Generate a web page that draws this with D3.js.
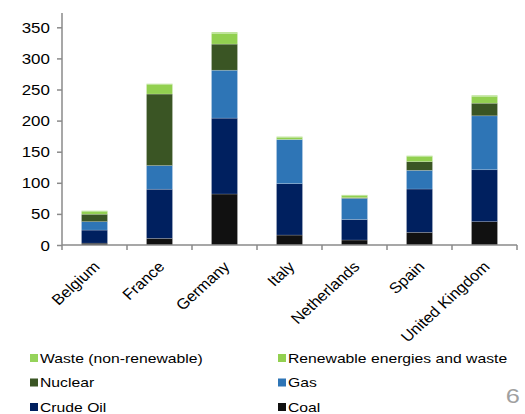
<!DOCTYPE html>
<html>
<head>
<meta charset="utf-8">
<script src="https://cdn.jsdelivr.net/npm/d3@7"></script>
<style>
  html, body { margin: 0; padding: 0; background: #fff; }
  svg { display: block; font-family: "Liberation Sans", Arial, sans-serif; }
</style>
</head>
<body>
<div id="chart"></div>
<script>
// countries along the x axis
const countries = ['Belgium', 'France', 'Germany', 'Italy', 'Netherlands', 'Spain', 'United Kingdom'];

// stacked series, bottom to top
const coal = [3, 10.7, 82, 16, 8, 20.4, 37.5];
const crudeOil = [21, 79, 122, 82.7, 33, 69.6, 83.5];
const gas = [13.5, 38, 77, 71, 34, 30, 86.7];
const nuclear = [12, 115, 42, 0, 1, 14, 20.3];
const renewables = [4, 15, 17, 3.5, 3.5, 8, 11];
const waste = [1.5, 1.5, 2, 1, 1, 1.5, 1.5];

const yTicks = [0, 50, 100, 150, 200, 250, 300, 350];

const seriesNames = ['Coal', 'Crude Oil', 'Gas', 'Nuclear', 'Renewable energies and waste', 'Waste (non-renewable)'];
const seriesValues = [coal, crudeOil, gas, nuclear, renewables, waste];
const colors = ['#111111', '#00205f', '#2e75b6', '#3a5524', '#92d050', '#95d35a'];

// legend layout order (two columns, three rows)
const legendOrder = [
  'Waste (non-renewable)', 'Renewable energies and waste',
  'Nuclear', 'Gas',
  'Crude Oil', 'Coal'
];

const width = 525;
const height = 414;
const stretch = 1.21; // text in the reference is horizontally widened
const axisColor = '#8a8a8a';

const table = countries.map((c, i) => {
  const row = { country: c };
  seriesNames.forEach((s, j) => { row[s] = seriesValues[j][i]; });
  return row;
});

const stacked = d3.stack().keys(seriesNames)(table);

const x = d3.scaleBand()
  .domain(countries)
  .range([62, 517])
  .paddingInner(0.6)
  .paddingOuter(0.3);

const y = d3.scaleLinear()
  .domain([0, 373])
  .range([245, 13]);

const color = d3.scaleOrdinal().domain(seriesNames).range(colors);

const svg = d3.select('#chart')
  .append('svg')
  .attr('width', width)
  .attr('height', height)
  .attr('viewBox', [0, 0, width, height]);

// bars
svg.append('g')
  .selectAll('g')
  .data(stacked)
  .join('g')
  .attr('fill', d => color(d.key))
  .selectAll('rect')
  .data(d => d)
  .join('rect')
  .attr('x', d => x(d.data.country))
  .attr('width', x.bandwidth())
  .attr('y', d => y(d[1]))
  .attr('height', d => Math.max(0, y(d[0]) - y(d[1])))
  .attr('stroke', '#ffffff')
  .attr('stroke-opacity', 0.3)
  .attr('stroke-width', 0.6);

// y axis
const yAxis = g => g
  .attr('transform', `translate(${x.range()[0]},0)`)
  .call(d3.axisLeft(y).tickValues(yTicks).tickSize(5).tickSizeOuter(0))
  .call(g => g.select('.domain')
    .attr('d', `M0,${y.range()[0]}V${y.range()[1]}`)
    .attr('stroke', axisColor)
    .attr('stroke-width', 1.5))
  .call(g => g.selectAll('.tick line').attr('stroke', axisColor).attr('stroke-width', 1.5))
  .call(g => g.selectAll('.tick text')
    .attr('x', -10)
    .attr('dy', '0.36em')
    .attr('fill', '#000')
    .style('font-size', '14px')
    .style('font-family', '"Liberation Sans", Arial, sans-serif')
    .attr('transform', `scale(${stretch},1)`));

svg.append('g').call(yAxis);

// x axis: baseline with ticks between categories
const step = x.step();
const boundaries = d3.range(countries.length + 1).map(i => x.range()[0] + i * step);

const xAxis = svg.append('g');
xAxis.append('line')
  .attr('x1', x.range()[0])
  .attr('x2', x.range()[1])
  .attr('y1', y(0))
  .attr('y2', y(0))
  .attr('stroke', axisColor)
  .attr('stroke-width', 1.5);

xAxis.selectAll('line.tick')
  .data(boundaries)
  .join('line')
  .attr('class', 'tick')
  .attr('x1', d => d)
  .attr('x2', d => d)
  .attr('y1', y(0))
  .attr('y2', y(0) + 5)
  .attr('stroke', axisColor)
  .attr('stroke-width', 1.5);

xAxis.selectAll('text')
  .data(countries)
  .join('text')
  .attr('transform', d => `translate(${x(d) + x.bandwidth() / 2 + 2},${y(0) + 19}) scale(1.1,1) rotate(-45)`)
  .attr('text-anchor', 'end')
  .attr('dy', '0.35em')
  .style('font-size', '15px')
  .text(d => d);

// legend
const legend = svg.append('g')
  .selectAll('g')
  .data(legendOrder)
  .join('g')
  .attr('transform', (d, i) => `translate(${i % 2 === 0 ? 30 : 278},${358 + Math.floor(i / 2) * 24.5})`);

legend.append('rect')
  .attr('x', 0)
  .attr('y', -4)
  .attr('width', 8)
  .attr('height', 8)
  .attr('fill', d => color(d));

legend.append('text')
  .attr('transform', `translate(10,0) scale(${stretch},1)`)
  .attr('dy', '0.36em')
  .style('font-size', '13px')
  .text(d => d);

// page number
svg.append('text')
  .attr('transform', `translate(520,403) scale(${stretch},1)`)
  .attr('text-anchor', 'end')
  .attr('fill', '#a0a0a0')
  .style('font-size', '21px')
  .text('6');
</script>
</body>
</html>
